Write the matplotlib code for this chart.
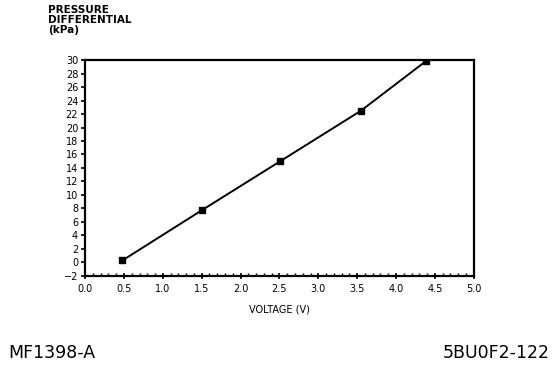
import matplotlib
matplotlib.use("Agg")
import matplotlib.pyplot as plt
from matplotlib.ticker import MultipleLocator

# values
voltage = [0.48, 1.51, 2.51, 3.55, 4.38]
pressure = [0.3, 7.8, 15.0, 22.5, 29.8]
x_ticks = [0.0, 0.5, 1.0, 1.5, 2.0, 2.5, 3.0, 3.5, 4.0, 4.5, 5.0]
y_ticks = list(range(-2, 31, 2))

fig = plt.figure(figsize=(5.6, 3.66), dpi=100)
ax = fig.add_axes([0.152, 0.246, 0.694, 0.590])

ax.plot(voltage, pressure, color="black", linewidth=1.4, marker="s", markersize=4)

ax.set_xlim(0, 5.0)
ax.set_ylim(-2, 30)
ax.set_xticks(x_ticks)
ax.set_xticklabels([f"{v:.1f}" for v in x_ticks])
ax.set_yticks(y_ticks)
ax.xaxis.set_minor_locator(MultipleLocator(0.1))
ax.tick_params(axis="x", which="major", direction="inout", length=5, width=1.2, labelsize=7, pad=3)
ax.tick_params(axis="x", which="minor", direction="in", length=2.5, width=1)
ax.tick_params(axis="y", which="major", direction="out", length=3, width=1.2, labelsize=7, pad=2)
for s in ax.spines.values():
    s.set_linewidth(1.6)

ax.set_xlabel("VOLTAGE (V)", fontsize=7, labelpad=8)
fig.text(0.086, 0.985, "PRESSURE\nDIFFERENTIAL\n(kPa)", fontsize=7.5, fontweight="bold",
         va="top", ha="left", linespacing=1.0)

fig.text(0.014, 0.012, "MF1398-A", fontsize=12.5, ha="left", va="bottom")
fig.text(0.982, 0.012, "5BU0F2-122", fontsize=12.5, ha="right", va="bottom")

fig.savefig("out.png", dpi=100)
